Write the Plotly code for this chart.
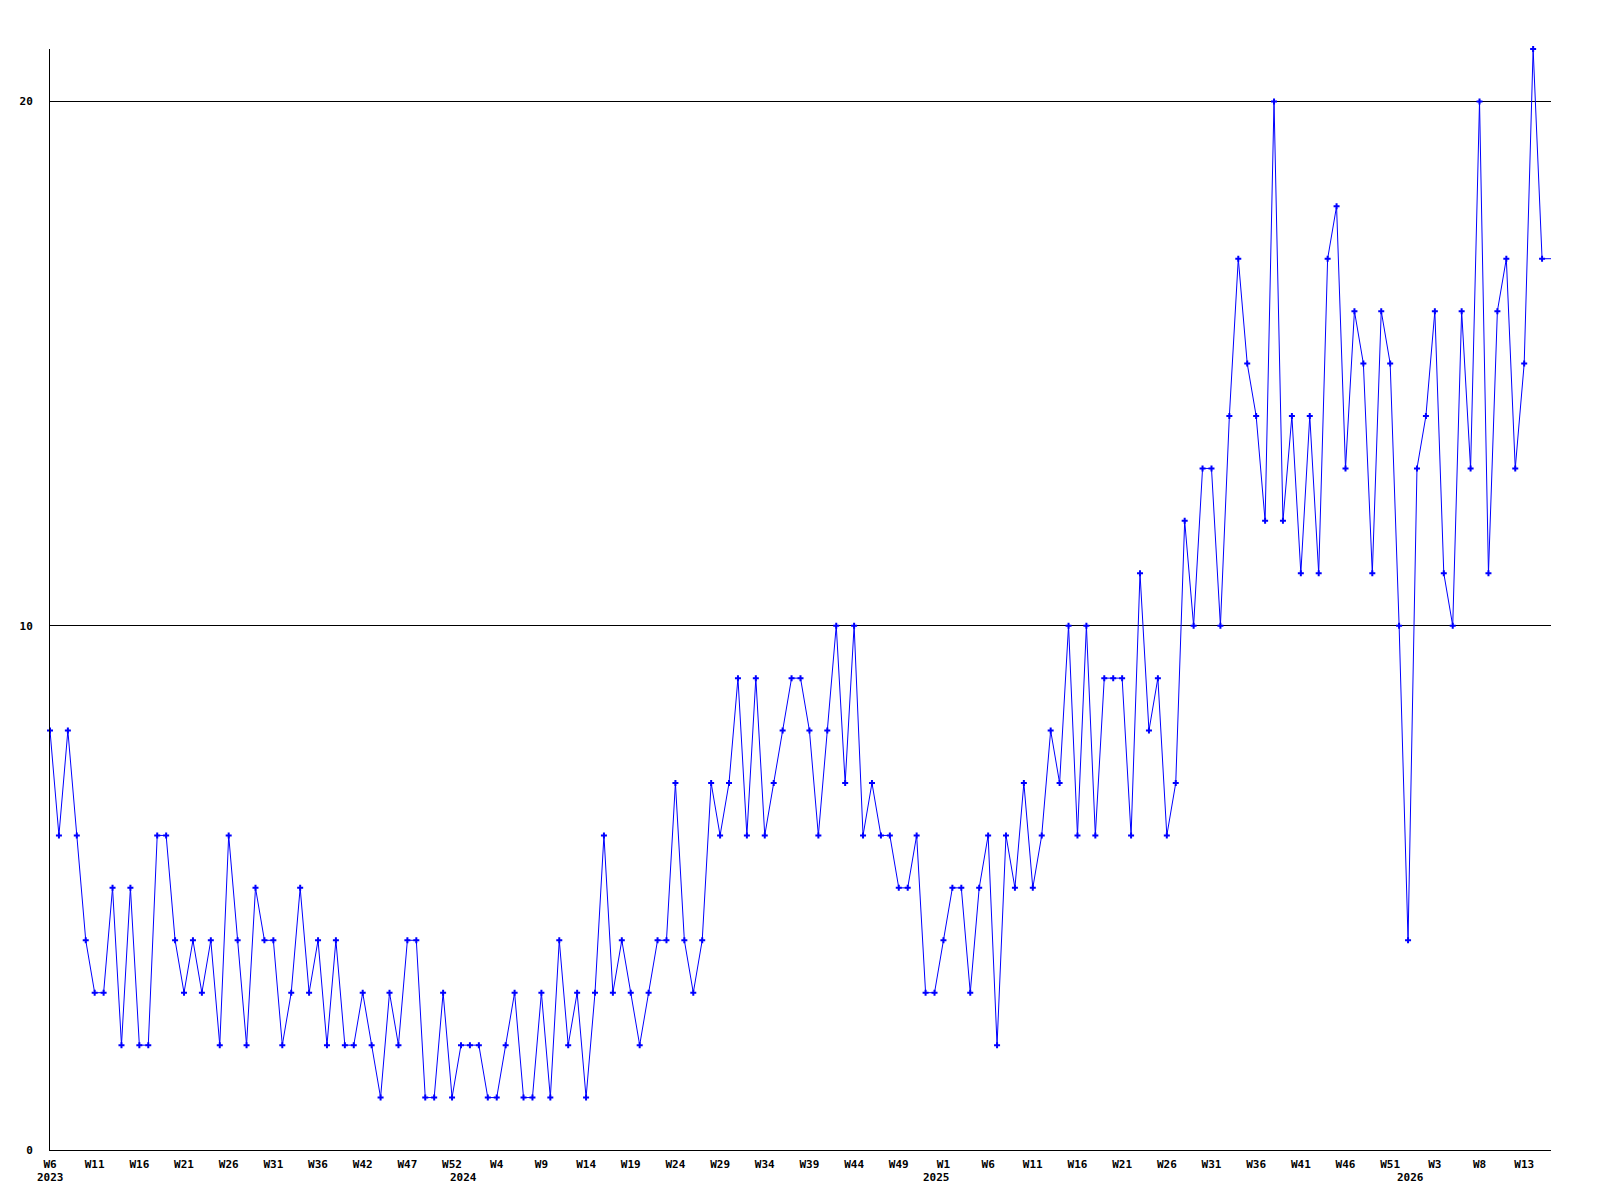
import plotly.graph_objects as go

# weekly values, starting 2023 W6
values = [
    8, 6, 8, 6, 4, 3, 3, 5, 2, 5, 2, 2, 6, 6, 4, 3, 4, 3, 4, 2, 6, 4, 2, 5, 4, 4, 2, 3, 5, 3, 4, 2, 4, 2, 2,
    3, 2, 1, 3, 2, 4, 4, 1, 1, 3, 1, 2, 2, 2, 1, 1, 2, 3, 1, 1, 3, 1, 4, 2, 3, 1, 3, 6, 3, 4, 3, 2, 3, 4,
    4, 7, 4, 3, 4, 7, 6, 7, 9, 6, 9, 6, 7, 8, 9, 9, 8, 6, 8, 10, 7, 10, 6, 7, 6, 6, 5, 5, 6, 3, 3, 4, 5, 5,
    3, 5, 6, 2, 6, 5, 7, 5, 6, 8, 7, 10, 6, 10, 6, 9, 9, 9, 6, 11, 8, 9, 6, 7, 12, 10, 13, 13, 10, 14,
    17, 15, 14, 12, 20, 12, 14, 11, 14, 11, 17, 18, 13, 16, 15, 11, 16, 15, 10, 4, 13, 14, 16, 11, 10, 16,
    13, 20, 11, 16, 17, 13, 15, 21, 17,
]

tick_labels = [
    "W6", "W11", "W16", "W21", "W26", "W31", "W36", "W42", "W47", "W52",
    "W4", "W9", "W14", "W19", "W24", "W29", "W34", "W39", "W44", "W49",
    "W1", "W6", "W11", "W16", "W21", "W26", "W31", "W36", "W41", "W46",
    "W51", "W3", "W8", "W13",
]
tick_step = 5

year_labels = ["2023", "2024", "2025", "2026"]
year_positions = [0, 46.3, 99.2, 152.3]

y_ticks = [0, 10, 20]

x = list(range(len(values)))
n = len(values)

font_family = "DejaVu Sans Mono"

fig = go.Figure()
fig.add_trace(go.Scatter(
    x=x, y=values, mode="lines+markers",
    line=dict(color="#0000FF", width=1),
    marker=dict(symbol="cross", size=5, color="#0000FF", line=dict(width=0)),
    cliponaxis=False, showlegend=False, hoverinfo="x+y",
))
# current (partial) week continuation to the right edge
fig.add_trace(go.Scatter(
    x=[n - 1, n], y=[values[-1], values[-1]], mode="lines",
    line=dict(color="#0000FF", width=1), showlegend=False, hoverinfo="skip",
))

for lbl, pos in zip(year_labels, year_positions):
    fig.add_annotation(
        x=pos, y=0, xref="x", yref="paper", text=lbl, showarrow=False,
        yanchor="middle", xanchor="center", yshift=-27,
        font=dict(family=font_family, size=11, color="black", weight="bold"),
    )

fig.update_layout(
    width=1600, height=1200,
    margin=dict(l=42, r=57, t=41, b=58),
    paper_bgcolor="white", plot_bgcolor="white",
    font=dict(family=font_family, size=11, color="black", weight="bold"),
    xaxis=dict(
        range=[0, n],
        tickmode="array",
        tickvals=[i * tick_step for i in range(len(tick_labels))],
        ticktext=tick_labels,
        showgrid=False, zeroline=False,
        showline=True, linecolor="black", linewidth=1,
        ticks="", ticklabelstandoff=4,
        tickfont=dict(family=font_family, size=11, color="black", weight="bold"),
    ),
    yaxis=dict(
        range=[0, max(values)],
        tickmode="array", tickvals=y_ticks, ticktext=[str(v) for v in y_ticks],
        showgrid=True, gridcolor="black", gridwidth=1,
        zeroline=False,
        showline=True, linecolor="black", linewidth=1,
        ticks="", ticklabelstandoff=14,
        tickfont=dict(family=font_family, size=11, color="black", weight="bold"),
    ),
)

fig.write_html("out.html")
